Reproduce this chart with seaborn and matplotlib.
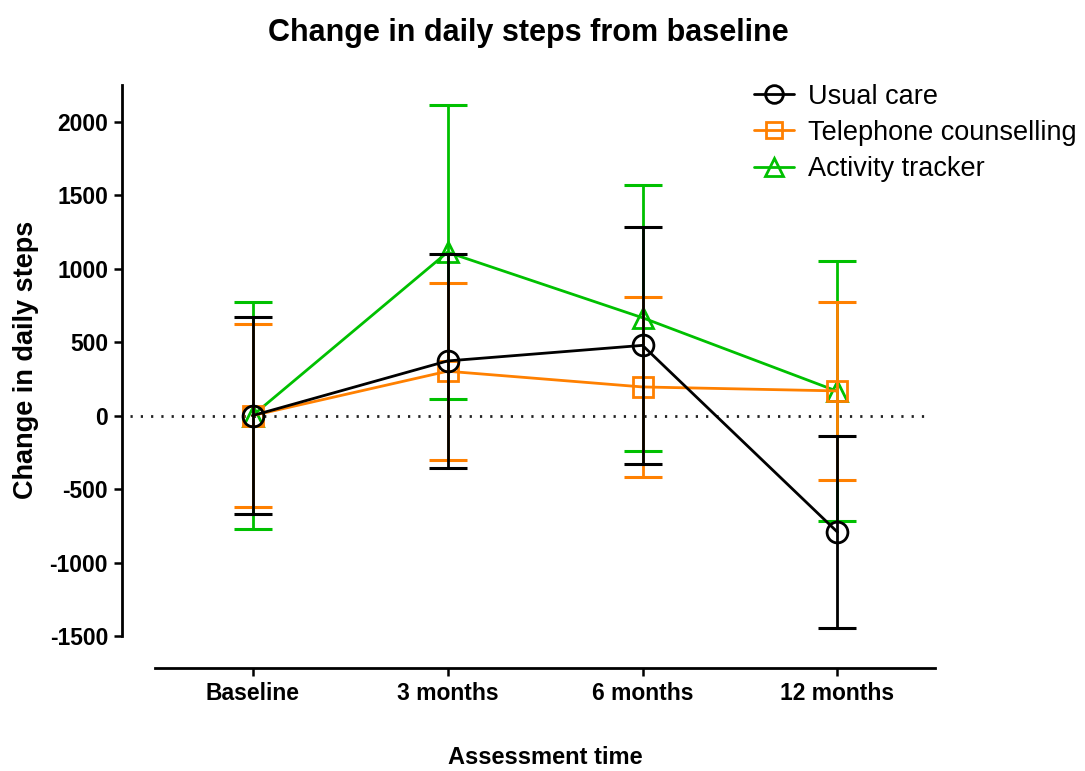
import matplotlib
matplotlib.use("Agg")
import matplotlib.pyplot as plt
from matplotlib.lines import Line2D
import seaborn as sns
import pandas as pd
import numpy as np

# ---- data ----
times = ["Baseline", "3 months", "6 months", "12 months"]
groups = ["Usual care", "Telephone counselling", "Activity tracker"]
usual_mean = [0, 372, 478, -793]
usual_err = [673, 728, 805, 652]
tel_mean = [0, 302, 195, 168]
tel_err = [625, 601, 612, 603]
act_mean = [0, 1112, 666, 165]
act_err = [770, 999, 905, 885]
yticks = [-1500, -1000, -500, 0, 500, 1000, 1500, 2000]

colors = {"Usual care": "#000000", "Telephone counselling": "#FF8000", "Activity tracker": "#00C000"}
markers = {"Usual care": "o", "Telephone counselling": "s", "Activity tracker": "^"}
msizes = {"Usual care": 15, "Telephone counselling": 14, "Activity tracker": 15}

rows = []
for g, m, e in [("Usual care", usual_mean, usual_err),
                ("Telephone counselling", tel_mean, tel_err),
                ("Activity tracker", act_mean, act_err)]:
    for i, t in enumerate(times):
        rows.append({"group": g, "time": t, "pos": i, "mean": m[i], "err": e[i]})
df = pd.DataFrame(rows)

sns.set_style("ticks")
plt.rcParams["font.family"] = ["Liberation Sans", "DejaVu Sans"]
plt.rcParams["axes.unicode_minus"] = False
plt.rcParams["text.color"] = "black"
plt.rcParams["xtick.color"] = "black"
plt.rcParams["ytick.color"] = "black"
plt.rcParams["axes.edgecolor"] = "black"

W, H = 1085, 771
fig = plt.figure(figsize=(W / 100, H / 100), dpi=100)
ax = fig.add_axes([155 / W, (H - 636) / H, 780 / W, (636 - 85) / H])

# zero reference line
ax.axhline(0, xmin=-0.032, xmax=0.994, color="#222222", lw=2.0,
           linestyle=(0, (0.8, 2.9)), clip_on=False, zorder=1)

LW = 2.0
draw_order = ["Activity tracker", "Telephone counselling", "Usual care"]
for k, g in enumerate(draw_order):
    sub = df[df["group"] == g]
    c = colors[g]
    ax.errorbar(sub["pos"], sub["mean"], yerr=sub["err"], fmt="none",
                ecolor=c, elinewidth=LW, capsize=14, capthick=2.2,
                zorder=3 + 2 * k)
    sns.lineplot(data=sub, x="pos", y="mean", ax=ax, color=c, lw=LW,
                 marker=markers[g], markersize=msizes[g], mfc="none",
                 mec=c, mew=LW, errorbar=None, zorder=4 + 2 * k,
                 legend=False)

ax.set_xlim(-0.5, 3.5)
ax.set_ylim(-1500, 2250)
ax.set_xticks(range(len(times)))
ax.set_xticklabels(times)
ax.set_yticks(yticks)
ax.set_yticklabels([str(v) for v in yticks])
ax.set_xlabel("")
ax.set_ylabel("")

for s in ["top", "right"]:
    ax.spines[s].set_visible(False)
ax.spines["left"].set_position(("outward", 23.8))
ax.spines["bottom"].set_position(("outward", 23))
ax.spines["left"].set_linewidth(2)
ax.spines["bottom"].set_linewidth(2)
ax.spines["left"].set_bounds(-1500, 2250)
ax.tick_params(axis="both", width=1.8, length=6, labelsize=16.5, pad=4, colors="black")
for lab in ax.get_xticklabels() + ax.get_yticklabels():
    lab.set_fontweight("bold")

fig.text(528 / W, 1 - 33 / H, "Change in daily steps from baseline",
         ha="center", va="center", fontsize=22, fontweight="bold", color="black")
fig.text(545 / W, 1 - 758 / H, "Assessment time", ha="center", va="center",
         fontsize=17, fontweight="bold", color="black")
fig.text(26 / W, 1 - 360 / H, "Change in daily steps", ha="center", va="center",
         rotation=90, fontsize=19.5, fontweight="bold", color="black")

handles = [Line2D([], [], color=colors[g], lw=LW, marker=markers[g],
                  markersize=msizes[g] * 0.85, mfc="none", mec=colors[g], mew=LW)
           for g in groups]
fig.legend(handles, groups, loc="upper left", bbox_to_anchor=(740 / W, 1 - 70 / H),
           frameon=False, borderpad=0, handlelength=1.5, handletextpad=0.5,
           labelspacing=0.38, fontsize=19.5)

fig.savefig("out.png", dpi=100, facecolor="white")
